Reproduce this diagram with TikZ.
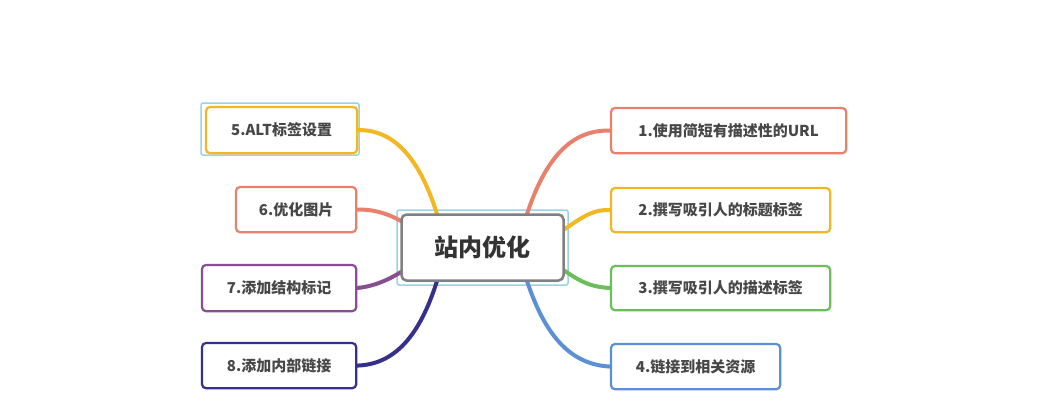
\documentclass[tikz,border=0pt]{standalone}
\usepackage{fontspec}
\setmainfont{Noto Sans CJK SC}
\begin{document}
\begin{tikzpicture}[x=1pt,y=-1pt,
  leaf/.style={draw=#1,line width=2.2pt,rounded corners=4pt,fill=white,inner sep=0pt,font=\fontsize{15}{18}\selectfont,text=black!80,anchor=north west},
  lbl/.style={text=black!72,font=\bfseries\fontsize{15}{18}\selectfont},
  br/.style={draw=#1,line width=4pt,line cap=round}]
\definecolor{cs}{HTML}{E8806E}\definecolor{cg}{HTML}{F2B822}\definecolor{cgr}{HTML}{6BBF5A}
\definecolor{cb}{HTML}{5B8FD6}\definecolor{cp}{HTML}{8A4D94}\definecolor{cn}{HTML}{35308A}
\definecolor{lb}{HTML}{9BD3E6}
\useasboundingbox[fill=white] (0,0) rectangle (1039,400);
\draw[lb,line width=1.5pt,rounded corners=2pt] (397,210) rectangle (568,285);
\coordinate (c1) at (527,214);\coordinate (c2) at (565,229);\coordinate (c3) at (565,271);\coordinate (c4) at (527,281);
\coordinate (c5) at (437,214);\coordinate (c6) at (401,221);\coordinate (c7) at (401,272);\coordinate (c8) at (437,281);
\node[leaf=cs,minimum width=233pt,minimum height=43pt] (n1) at (611,108) {};
\node[leaf=cg,minimum width=217pt,minimum height=42pt] (n2) at (611,188) {};
\node[leaf=cgr,minimum width=217pt,minimum height=42pt] (n3) at (611,266) {};
\node[leaf=cb,minimum width=167pt,minimum height=43pt] (n4) at (611,344) {};
\draw[lb,line width=1.5pt,rounded corners=2pt] (201,103) rectangle (359,155);
\node[leaf=cg,minimum width=149pt,minimum height=44pt] (n5) at (206,107) {};
\node[leaf=cs,minimum width=118pt,minimum height=43pt] (n6) at (236,187) {};
\node[leaf=cp,minimum width=152pt,minimum height=44pt] (n7) at (202,265) {};
\node[leaf=cn,minimum width=152pt,minimum height=43pt] (n8) at (202,343) {};
\draw[br=cs] (c1) .. controls (545,160) and (570,129) .. (n1.west);
\draw[br=cg] (c2) .. controls (585,215) and (595,209) .. (n2.west);
\draw[br=cgr] (c3) .. controls (585,285) and (595,287) .. (n3.west);
\draw[br=cb] (c4) .. controls (545,335) and (570,365) .. (n4.west);
\draw[br=cg] (c5) .. controls (420,160) and (395,129) .. (n5.east);
\draw[br=cs] (c6) .. controls (385,212) and (370,209) .. (n6.east);
\draw[br=cp] (c7) .. controls (385,282) and (370,287) .. (n7.east);
\draw[br=cn] (c8) .. controls (420,335) and (395,365) .. (n8.east);
\foreach \n/\c in {n1/cs,n2/cg,n3/cgr,n4/cb,n5/cg,n6/cs,n7/cp,n8/cn}{
  \draw[\c,line width=2.2pt,rounded corners=4pt,fill=white] (\n.north west) rectangle (\n.south east);}
\node[lbl] (t1) at (n1) {1.使用简短有描述性的URL};
\node[lbl] (t2) at (n2) {2.撰写吸引人的标题标签};
\node[lbl] (t3) at (n3) {3.撰写吸引人的描述标签};
\node[lbl] (t4) at (n4) {4.链接到相关资源};
\node[lbl] (t5) at (n5) {5.ALT标签设置};
\node[lbl] (t6) at (n6) {6.优化图片};
\node[lbl] (t7) at (n7) {7.添加结构标记};
\node[lbl] (t8) at (n8) {8.添加内部链接};
\node[draw=gray,line width=2.5pt,rounded corners=5pt,fill=white,minimum width=162pt,minimum height=66pt,font=\bfseries\fontsize{24}{28}\selectfont,text=black!80] (c) at (482.5,247.5) {站内优化};
\end{tikzpicture}
\end{document}
